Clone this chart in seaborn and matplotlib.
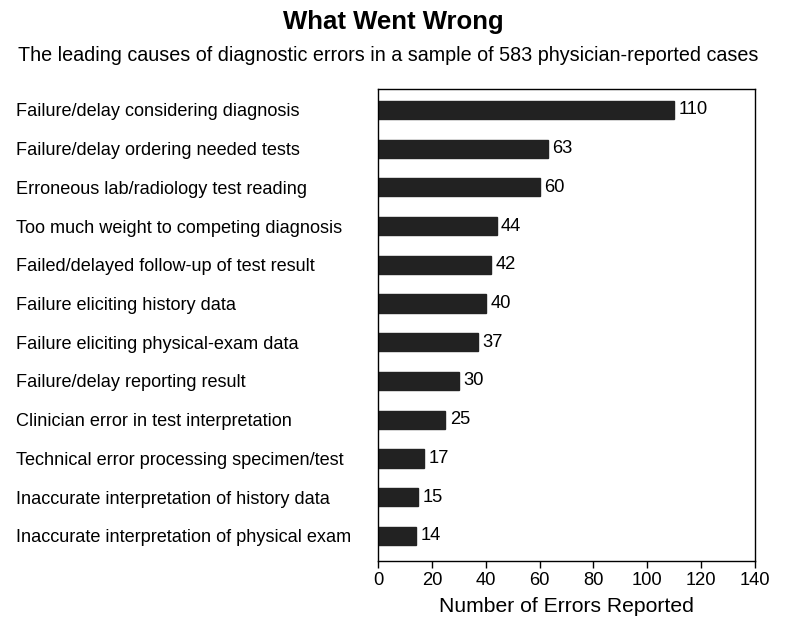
import numpy as np
import pandas as pd
import matplotlib.pyplot as plt
import seaborn as sns

causes = [
    "Failure/delay considering diagnosis",
    "Failure/delay ordering needed tests",
    "Erroneous lab/radiology test reading",
    "Too much weight to competing diagnosis",
    "Failed/delayed follow-up of test result",
    "Failure eliciting history data",
    "Failure eliciting physical-exam data",
    "Failure/delay reporting result",
    "Clinician error in test interpretation",
    "Technical error processing specimen/test",
    "Inaccurate interpretation of history data",
    "Inaccurate interpretation of physical exam",
]
errors = [110, 63, 60, 44, 42, 40, 37, 30, 25, 17, 15, 14]
x_ticks = [0, 20, 40, 60, 80, 100, 120, 140]

df = pd.DataFrame({"cause": causes, "errors": errors})

sns.set_theme(style="white")
plt.rcParams["font.family"] = ["Liberation Sans", "DejaVu Sans"]
plt.rcParams["text.color"] = "black"

fig = plt.figure(figsize=(7.88, 6.34), dpi=100)
ax = fig.add_axes([0.4797, 0.1151, 0.4785, 0.7445])

sns.barplot(data=df, x="errors", y="cause", color="#222222", width=0.47,
            saturation=1, edgecolor="#222222", ax=ax)

for i, v in enumerate(errors):
    ax.text(v + 1.7, i, str(v), va="center", ha="left", fontsize=13.2, color="black")

ax.set_xlim(0, 140)
ax.set_ylim(11.65, -0.54)
ax.set_xticks(x_ticks)
ax.set_xticklabels([str(t) for t in x_ticks], fontsize=13.2, color="black")
ax.tick_params(axis="x", bottom=True, direction="out", length=5, width=1, color="black", pad=3)
ax.tick_params(axis="y", left=False, length=0, pad=260.5)
for lbl in ax.get_yticklabels():
    lbl.set_horizontalalignment("left")
    lbl.set_fontsize(13.1)
    lbl.set_color("black")
ax.set_ylabel("")
ax.set_xlabel("Number of Errors Reported", fontsize=15.2, labelpad=6, color="black")
for s in ax.spines.values():
    s.set_visible(True)
    s.set_color("black")
    s.set_linewidth(1)

fig.text(0.499, 0.965, "What Went Wrong", ha="center", va="center",
         fontsize=18.5, fontweight="bold", color="black")
fig.text(0.492, 0.913,
         "The leading causes of diagnostic errors in a sample of 583 physician-reported cases",
         ha="center", va="center", fontsize=14.2, color="black")

fig.savefig("out.png", dpi=100)
